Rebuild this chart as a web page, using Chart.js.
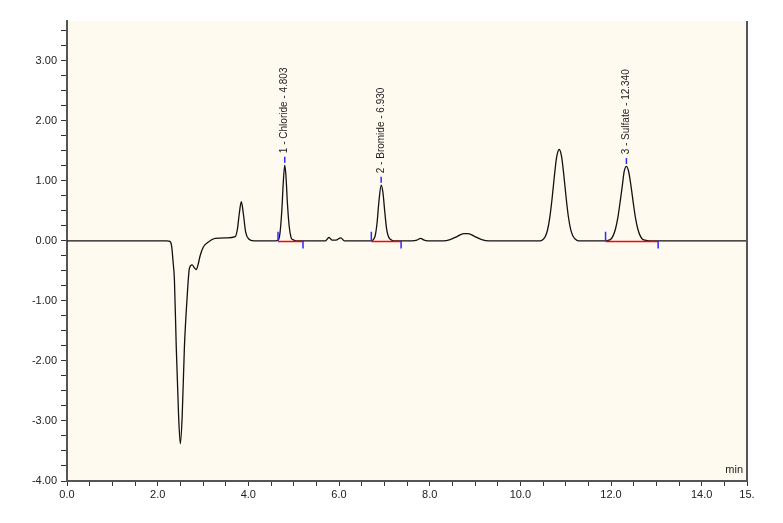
<!DOCTYPE html>
<html>
<head>
<meta charset="utf-8">
<script src="https://cdn.jsdelivr.net/npm/chart.js@4.4.1/dist/chart.umd.min.js"></script>
<style>
  body { margin: 0; background: #ffffff; }
  #wrap { width: 783px; height: 523px; }
</style>
</head>
<body>
<div id="wrap"><canvas id="chrom" width="783" height="523"></canvas></div>
<script>
// retention time (min) and signal
var times = [0.0, 0.5, 1.0, 1.5, 2.0, 2.2, 2.27, 2.31, 2.34, 2.37, 2.41, 2.46, 2.50, 2.54, 2.59, 2.65, 2.70, 2.76, 2.81, 2.85, 2.89, 2.94, 3.01, 3.12, 3.27, 3.53, 3.71, 3.76, 3.80, 3.845, 3.89, 3.94, 4.01, 4.12, 4.4,
    4.60, 4.66, 4.70, 4.74, 4.77, 4.803, 4.83, 4.86, 4.90, 4.94, 4.98, 5.05, 5.2, 5.6, 5.70, 5.78, 5.85, 5.93, 6.04, 6.12, 6.5,
    6.70, 6.76, 6.80, 6.84, 6.88, 6.93, 6.97, 7.01, 7.05, 7.09, 7.14, 7.20, 7.6, 7.72, 7.80, 7.88, 7.95, 8.3, 8.45, 8.6, 8.75, 8.85, 9.0, 9.15, 9.3, 10.0,
    10.45, 10.50, 10.55, 10.60, 10.65, 10.70, 10.75, 10.80, 10.86, 10.91, 10.96, 11.01, 11.06, 11.11, 11.16, 11.21, 11.28, 11.6,
    11.90, 11.95, 12.00, 12.05, 12.10, 12.15, 12.20, 12.25, 12.29, 12.34, 12.39, 12.44, 12.49, 12.54, 12.59, 12.64, 12.69, 12.75, 12.85, 13.5, 14.0, 15.0];
var signal = [0.0, 0.0, 0.0, 0.0, 0.0, 0.0, -0.01, -0.1, -0.35, -0.66, -1.77, -2.88, -3.38, -2.94, -1.77, -0.94, -0.46, -0.40, -0.45, -0.48, -0.40, -0.24, -0.10, -0.02, 0.04, 0.05, 0.07, 0.2, 0.45, 0.65, 0.45, 0.15, 0.03, 0.0, 0.0,
    0.0, 0.01, 0.14, 0.52, 0.96, 1.26, 1.08, 0.65, 0.25, 0.06, 0.02, 0.0, 0.0, 0.0, 0.0, 0.055, 0.01, 0.01, 0.05, 0.0, 0.0,
    0.0, 0.02, 0.09, 0.30, 0.65, 0.925, 0.80, 0.48, 0.20, 0.07, 0.02, 0.0, 0.0, 0.01, 0.04, 0.01, 0.0, 0.0, 0.02, 0.07, 0.12, 0.12, 0.07, 0.02, 0.0, 0.0,
    0.0, 0.02, 0.07, 0.18, 0.39, 0.70, 1.07, 1.39, 1.52, 1.40, 1.09, 0.72, 0.40, 0.19, 0.08, 0.03, 0.0, 0.0,
    0.0, 0.01, 0.03, 0.09, 0.20, 0.38, 0.64, 0.92, 1.15, 1.24, 1.15, 0.92, 0.64, 0.38, 0.20, 0.09, 0.03, 0.01, 0.0, 0.0, 0.0, 0.0];

// identified peaks
var peakNames = ['1 - Chloride - 4.803', '2 - Bromide - 6.930', '3 - Sulfate - 12.340'];
var peakTimes = [4.803, 6.930, 12.340];
var peakHeights = [1.26, 0.925, 1.24];
var peakStarts = [4.655, 6.713, 11.88];
var peakEnds = [5.206, 7.37, 13.04];

var xTicks = [0, 2, 4, 6, 8, 10, 12, 14, 15];
var yTicks = [-4, -3, -2, -1, 0, 1, 2, 3];

var trace = [];
for (var i = 0; i < times.length; i++) {
    trace.push({x: times[i], y: signal[i]});
}

var baseLines = [], marks = [];
for (var k = 0; k < peakTimes.length; k++) {
    baseLines.push({x: peakStarts[k], y: -0.01}, {x: peakEnds[k], y: -0.01}, {x: peakEnds[k], y: null});
    marks.push({x: peakStarts[k], y: 0}, {x: peakStarts[k], y: 0.15}, {x: peakStarts[k], y: null});
    marks.push({x: peakEnds[k], y: 0}, {x: peakEnds[k], y: -0.13}, {x: peakEnds[k], y: null});
    marks.push({x: peakTimes[k], y: peakHeights[k] + 0.04}, {x: peakTimes[k], y: peakHeights[k] + 0.14}, {x: peakTimes[k], y: null});
}

var plotDeco = {
    id: 'plotDeco',
    beforeDraw: function(chart) {
        var a = chart.chartArea, c = chart.ctx;
        c.save();
        c.fillStyle = '#fffaf0';
        c.fillRect(a.left, a.top, a.right - a.left, a.bottom - a.top);
        c.restore();
    },
    afterDraw: function(chart) {
        var a = chart.chartArea, c = chart.ctx;
        var xs = chart.scales.x, ys = chart.scales.y;
        c.save();
        // right frame line
        c.strokeStyle = '#555';
        c.lineWidth = 2;
        c.beginPath();
        c.moveTo(a.right, a.top);
        c.lineTo(a.right, a.bottom);
        c.stroke();
        // peak names
        c.fillStyle = '#222';
        c.font = '10px "Liberation Sans", Arial, sans-serif';
        c.textAlign = 'left';
        c.textBaseline = 'middle';
        for (var k = 0; k < peakNames.length; k++) {
            var px = xs.getPixelForValue(peakTimes[k]);
            var py = ys.getPixelForValue(peakHeights[k]) - 12;
            c.save();
            c.translate(px, py);
            c.rotate(-Math.PI / 2);
            c.fillText(peakNames[k], 0, 0);
            c.restore();
        }
        c.font = '11px "Liberation Sans", Arial, sans-serif';
        c.textAlign = 'right';
        c.textBaseline = 'alphabetic';
        c.fillText('min', a.right - 4, a.bottom - 8);
        c.restore();
    }
};

var ctx = document.getElementById('chrom').getContext('2d');
var chart = new Chart(ctx, {
    type: 'line',
    data: {
        datasets: [{
            data: trace,
            borderColor: '#111',
            borderWidth: 1.3,
            pointRadius: 0,
            cubicInterpolationMode: 'monotone',
            order: 3
        }, {
            data: baseLines,
            borderColor: '#ff0000',
            borderWidth: 1.5,
            pointRadius: 0,
            spanGaps: false,
            order: 2
        }, {
            data: marks,
            borderColor: '#2a2aff',
            borderWidth: 1.5,
            pointRadius: 0,
            spanGaps: false,
            order: 1
        }]
    },
    options: {
        responsive: false,
        animation: false,
        layout: { padding: { top: 21, right: 36, bottom: 0, left: 0 } },
        plugins: { legend: { display: false }, tooltip: { enabled: false } },
        scales: {
            x: {
                type: 'linear',
                min: 0,
                max: 15,
                afterFit: function(s) { s.height = 42; },
                border: { display: true, color: '#555', width: 2 },
                grid: { drawOnChartArea: false, drawTicks: true, tickLength: 5, color: '#333' },
                ticks: {
                    stepSize: 0.5,
                    autoSkip: false,
                    maxRotation: 0,
                    padding: 2,
                    color: '#222',
                    font: { family: '"Liberation Sans", Arial, sans-serif', size: 11 },
                    callback: function(v) {
                        if (xTicks.indexOf(v) < 0) return '';
                        return v === 15 ? '15.' : v.toFixed(1);
                    }
                }
            },
            y: {
                min: -4,
                max: 3.66,
                afterFit: function(s) { s.width = 67; },
                border: { display: true, color: '#555', width: 2 },
                grid: { drawOnChartArea: false, drawTicks: true, tickLength: 6, color: '#333' },
                ticks: {
                    stepSize: 0.25,
                    includeBounds: false,
                    autoSkip: false,
                    padding: 4,
                    color: '#222',
                    font: { family: '"Liberation Sans", Arial, sans-serif', size: 11 },
                    callback: function(v) {
                        return yTicks.indexOf(v) < 0 ? '' : v.toFixed(2);
                    }
                }
            }
        }
    },
    plugins: [plotDeco]
});
</script>
</body>
</html>
